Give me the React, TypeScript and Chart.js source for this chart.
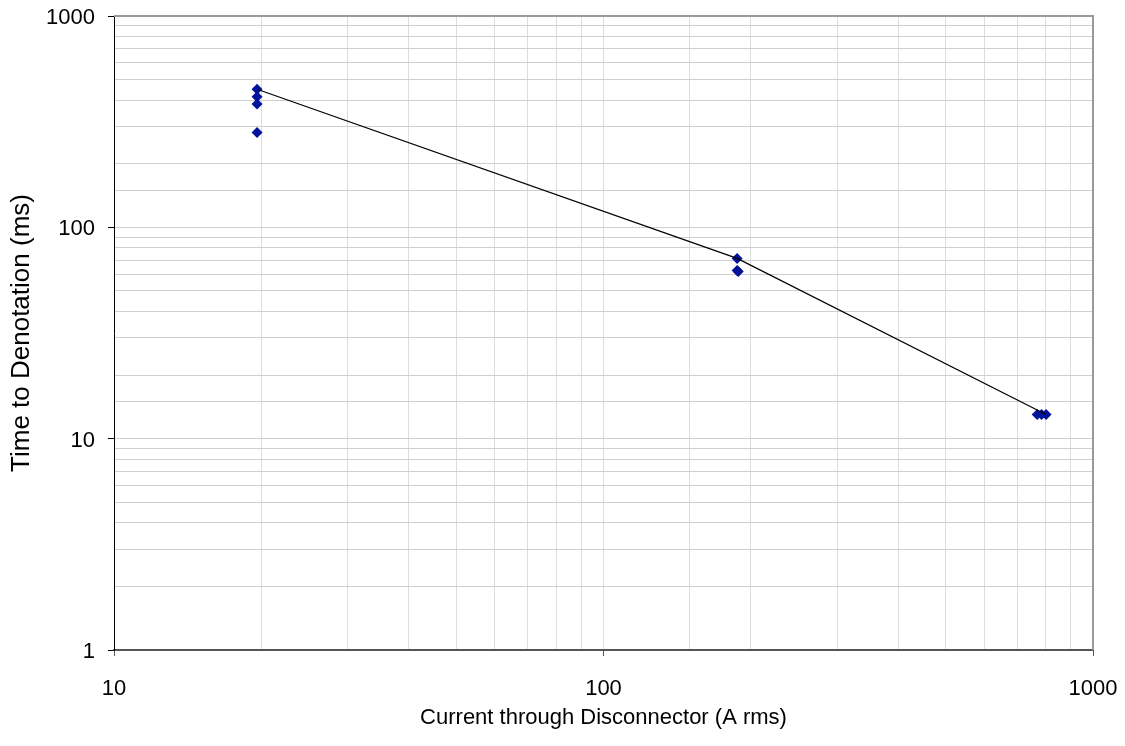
import React, { useEffect, useRef } from "react";
import { Chart, registerables } from "chart.js";

Chart.register(...registerables);

// Measured points: current (A rms) vs time to detonation (ms)
const currentA: number[] = [19.6, 19.6, 19.6, 19.6, 187.5, 187.5, 188.5, 769, 785, 802];
const timeMs: number[] = [450, 415, 383, 281, 71.3, 62.5, 61.8, 13.0, 13.0, 13.0];

// Curve through the upper points
const curveCurrent: number[] = [19.6, 187.5, 802];
const curveTime: number[] = [450, 71.3, 13.0];

const xTitle = "Current through Disconnector (A rms)";
const yTitle = "Time to Denotation (ms)";
const xRange = [10, 1000];
const yRange = [1, 1000];

const isDecade = (v: number) => Math.abs(Math.log10(v) - Math.round(Math.log10(v))) < 1e-9;

const frame = {
  id: "frame",
  afterDraw(chart: any) {
    const { ctx, chartArea } = chart;
    ctx.save();
    ctx.strokeStyle = "#9a9a9a";
    ctx.lineWidth = 2;
    ctx.beginPath();
    ctx.moveTo(chartArea.left, chartArea.top);
    ctx.lineTo(chartArea.right, chartArea.top);
    ctx.lineTo(chartArea.right, chartArea.bottom);
    ctx.stroke();
    ctx.restore();
  },
};

export default function App() {
  const ref = useRef<HTMLCanvasElement | null>(null);
  useEffect(() => {
    if (!ref.current) return;
    const family = "'Liberation Sans', Arial, sans-serif";
    const font = { family, size: 22 };
    const chart = new Chart(ref.current, {
      type: "scatter",
      data: {
        datasets: [
          {
            label: "curve",
            data: curveCurrent.map((x, i) => ({ x, y: curveTime[i] })),
            showLine: true,
            borderColor: "#000000",
            borderWidth: 1.2,
            pointRadius: 0,
            fill: false,
          },
          {
            label: "points",
            data: currentA.map((x, i) => ({ x, y: timeMs[i] })),
            pointStyle: "rectRot",
            pointRadius: 5.5,
            backgroundColor: "#00139a",
            borderColor: "#00139a",
            borderWidth: 0,
            showLine: false,
          },
        ],
      },
      options: {
        animation: false,
        responsive: false,
        layout: { padding: { top: 8, right: 24, left: 0, bottom: 0 } },
        plugins: { legend: { display: false }, tooltip: { enabled: false } },
        scales: {
          x: {
            type: "logarithmic",
            min: xRange[0],
            max: xRange[1],
            afterFit(scale: any) {
              scale.height = 88;
              scale.paddingLeft = 0;
              scale.paddingRight = 0;
            },
            border: { color: "#555555", width: 2 },
            grid: {
              color: "#dddddd",
              lineWidth: 1,
              tickLength: 6,
              tickColor: (c: any) => (c.tick && isDecade(c.tick.value) ? "#555555" : "rgba(0,0,0,0)"),
            },
            ticks: {
              autoSkip: false,
              maxRotation: 0,
              padding: 20,
              color: "#000000",
              font,
              callback: (v: any) => (isDecade(Number(v)) ? String(Math.round(Number(v))) : ""),
            },
            title: { display: true, text: xTitle, color: "#000000", font, padding: { top: 0, bottom: 7 } },
          },
          y: {
            type: "logarithmic",
            min: yRange[0],
            max: yRange[1],
            afterFit(scale: any) {
              scale.width = 106;
              scale.paddingTop = 0;
              scale.paddingBottom = 0;
            },
            border: { color: "#000000", width: 1 },
            grid: {
              color: "#cfcfcf",
              lineWidth: 1,
              tickLength: 6,
              tickColor: (c: any) => (c.tick && isDecade(c.tick.value) ? "#000000" : "rgba(0,0,0,0)"),
            },
            ticks: {
              autoSkip: false,
              padding: 13,
              labelOffset: 2,
              color: "#000000",
              font,
              callback: (v: any) => (isDecade(Number(v)) ? String(Math.round(Number(v))) : ""),
            },
            title: { display: true, text: yTitle, color: "#000000", font: { family, size: 26 }, padding: { top: -2, bottom: 0 } },
          },
        },
      },
      plugins: [frame],
    } as any);
    return () => chart.destroy();
  }, []);
  return (
    <div style={{ width: 1109, height: 730 }}>
      <canvas ref={ref} width={1109} height={730} style={{ display: "block" }} />
    </div>
  );
}
